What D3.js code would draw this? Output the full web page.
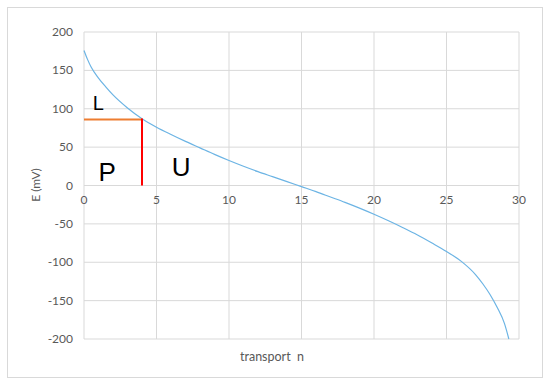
<!DOCTYPE html>
<html><head><meta charset="utf-8">
<script src="https://cdn.jsdelivr.net/npm/d3@7"></script>
<style>body{margin:0;background:#fff}svg{display:block}</style>
</head><body>
<svg id="c" width="550" height="385"></svg>
<script>
const nValues = [0, 0.25, 0.5, 1, 1.5, 2, 3, 4, 5, 6, 7, 8, 9, 10, 11, 12, 13, 14, 15, 16, 17, 18, 19, 20, 21, 22, 23, 24, 25, 26, 27, 27.5, 28, 28.5, 29, 29.3];
const eValues = [176, 164, 154, 140, 128.5, 118, 101, 87, 76, 66.5, 57.5, 49, 40.5, 32.5, 25, 18, 11.5, 5, -1.5, -8, -15, -22, -29.5, -37.5, -46, -55, -64.5, -75, -86, -98.5, -116, -128, -142, -159, -180, -200];
const xTicks = [0, 5, 10, 15, 20, 25, 30];
const yTicks = [200, 150, 100, 50, 0, -50, -100, -150, -200];
const markN = 4, markE = 86;
const labels = [{t:"L", n:0.6, e:98, s:20}, {t:"P", n:1.0, e:6, s:26}, {t:"U", n:6.05, e:12, s:26}];

const svg = d3.select("#c");
svg.append("rect").attr("x",7.5).attr("y",7.5).attr("width",535).attr("height",370)
  .attr("fill","#fff").attr("stroke","#d9d9d9");
const x = d3.scaleLinear().domain([0,30]).range([84,519]);
const y = d3.scaleLinear().domain([-200,200]).range([339,32]);
const g = svg.append("g");
g.selectAll(".vg").data(xTicks).join("line").attr("x1",d=>x(d)).attr("x2",d=>x(d))
  .attr("y1",y(200)).attr("y2",y(-200)).attr("stroke","#d9d9d9").attr("stroke-width",1);
g.selectAll(".hg").data(yTicks).join("line").attr("y1",d=>y(d)).attr("y2",d=>y(d))
  .attr("x1",x(0)).attr("x2",x(30)).attr("stroke","#d9d9d9").attr("stroke-width",1);
const font = "Lato, 'Open Sans', sans-serif";
g.selectAll(".xt").data(xTicks).join("text").attr("x",d=>x(d)).attr("y",y(0)+18)
  .attr("text-anchor","middle").attr("font-family",font).attr("font-size",12).attr("fill","#595959").text(d=>d);
g.selectAll(".yt").data(yTicks).join("text").attr("x",73).attr("y",d=>y(d)+4)
  .attr("text-anchor","end").attr("font-family",font).attr("font-size",12).attr("fill","#595959").text(d=>d);
svg.append("text").attr("transform","translate(40,185) rotate(-90)").attr("text-anchor","middle")
  .attr("font-family",font).attr("font-size",12).attr("fill","#595959").text("E (mV)");
svg.append("text").attr("x",272).attr("y",361).attr("text-anchor","middle")
  .attr("font-family",font).attr("font-size",12.5).attr("fill","#595959").attr("xml:space","preserve").text("transport  n");
const line = d3.line().x(d=>x(d[0])).y(d=>y(d[1])).curve(d3.curveMonotoneX);
svg.append("path").datum(nValues.map((n,i)=>[n,eValues[i]])).attr("d",line)
  .attr("fill","none").attr("stroke","#6cb4e4").attr("stroke-width",1.2);
svg.append("line").attr("x1",x(0)).attr("x2",x(markN)).attr("y1",y(markE)).attr("y2",y(markE))
  .attr("stroke","#ed7d31").attr("stroke-width",2);
svg.append("line").attr("x1",x(markN)).attr("x2",x(markN)).attr("y1",y(markE)-1).attr("y2",y(0))
  .attr("stroke","#ff0000").attr("stroke-width",2);
svg.selectAll(".lab").data(labels).join("text").attr("x",d=>x(d.n)).attr("y",d=>y(d.e))
  .attr("font-family","Arial, 'Liberation Sans', sans-serif").attr("font-size",d=>d.s).attr("fill","#000").text(d=>d.t);
</script>
</body></html>
